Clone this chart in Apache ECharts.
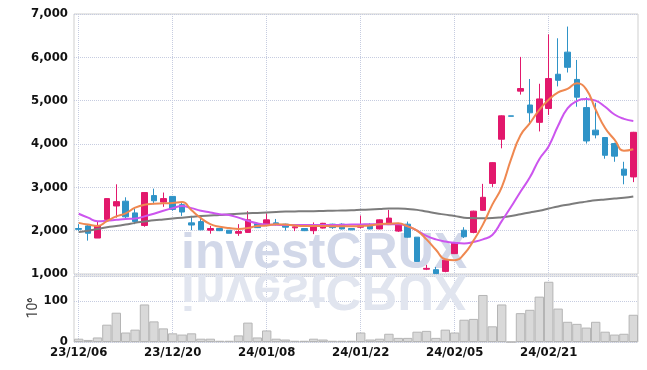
<!DOCTYPE html>
<html>
<head>
<meta charset="utf-8">
<script src="https://cdn.jsdelivr.net/npm/echarts@6/dist/echarts.min.js"></script>
<style>
  html, body { margin: 0; padding: 0; background: #fff; }
  #main { width: 647px; height: 370px; }
</style>
</head>
<body>
<div id="main"></div>
<script>
// trading days
var dates = ['23/12/06','23/12/07','23/12/08','23/12/11','23/12/12','23/12/13','23/12/14','23/12/15','23/12/18','23/12/19',
  '23/12/20','23/12/21','23/12/22','23/12/26','23/12/27','23/12/28','24/01/02','24/01/03','24/01/04','24/01/05',
  '24/01/08','24/01/09','24/01/10','24/01/11','24/01/12','24/01/15','24/01/16','24/01/17','24/01/18','24/01/19',
  '24/01/22','24/01/23','24/01/24','24/01/25','24/01/26','24/01/29','24/01/30','24/01/31','24/02/01','24/02/02',
  '24/02/05','24/02/06','24/02/07','24/02/08','24/02/13','24/02/14','24/02/15','24/02/16','24/02/19','24/02/20',
  '24/02/21','24/02/22','24/02/23','24/02/26','24/02/27','24/02/28','24/02/29','24/03/04','24/03/05','24/03/06'];

var openP  = [2050,2110,1830,2260,2570,2680,2410,2120,2810,2660, 2790,2600,2180,2210,2010,2050,2010,1940,1960,2160,
              2120,2180,2150,2065,2050,2000,2060,2150,2150,2050, 2080,2130,2040,2140,1990,2150,1850,1110,1100,1060,
              1470,2010,1960,2470,3090,4110,4650,5220,4900,4500, 4820,5610,6120,5490,4840,4320,4150,4010,3420,3240];
var closeP = [2030,1940,2115,2740,2670,2320,2210,2880,2690,2740, 2490,2430,2130,2020,2050,2000,1940,1980,2250,2070,
              2250,2140,2080,2090,2000,2090,2170,2070,2040,2020, 2110,2040,2250,2290,2150,1850,1290,1130,1010,1320,
              1710,1860,2450,2770,3570,4650,4640,5280,4720,5040, 5510,5470,5770,5080,4070,4210,3740,3720,3280,4270];
var highP  = [2150,2130,2210,2750,3070,2770,2500,2890,2970,2880, 2800,2640,2340,2270,2110,2060,2010,2150,2450,2170,
              2400,2270,2160,2150,2060,2190,2180,2160,2170,2060, 2350,2170,2260,2480,2170,2210,1850,1210,1160,1330,
              1720,2080,2460,3080,3580,4660,4650,6010,5500,5390, 6530,6440,6710,5940,5080,4950,4160,4030,3590,4280];
var lowP   = [1990,1770,1830,2230,2300,2250,2150,2090,2610,2550, 2460,2340,2010,2010,1930,1990,1940,1880,1950,2060,
              2110,2120,2000,1990,1990,1920,2050,2040,2030,2010, 2050,2030,2030,2130,1970,1840,1280,1090,1000,1040,
              1460,1830,1940,2460,3010,3900,4640,5140,4440,4290, 4670,5330,5650,4860,4010,4130,3660,3590,3070,3120];

// moving averages
var ma5  = [2180,2140,2110,2220,2330,2400,2530,2600,2620,2630, 2640,2660,2470,2290,2150,2090,2060,2040,2060,2110,
            2120,2150,2140,2120,2110,2110,2110,2100,2100,2100, 2110,2120,2150,2160,2170,2100,2000,1800,1560,1340,
            1320,1460,1770,2140,2600,3000,3650,4200,4480,4790, 5020,5190,5270,5400,5260,4790,4370,4100,3845,3880];
var ma20 = [2390,2300,2220,2230,2250,2270,2280,2330,2390,2460, 2520,2570,2520,2460,2420,2380,2360,2300,2230,2170,
            2140,2135,2130,2130,2130,2130,2130,2130,2135,2140, 2145,2150,2150,2150,2150,2100,2000,1880,1800,1750,
            1720,1705,1740,1800,1900,2220,2550,2900,3230,3650, 3950,4420,4820,4990,5040,5000,4860,4680,4580,4530];
var ma60 = [1970,2000,2040,2080,2110,2140,2180,2210,2240,2260, 2280,2300,2320,2340,2350,2360,2380,2390,2400,2410,
            2420,2430,2440,2445,2450,2450,2455,2460,2465,2470, 2480,2490,2500,2510,2510,2500,2480,2440,2400,2370,
            2340,2300,2290,2285,2290,2310,2340,2380,2420,2460, 2510,2560,2600,2640,2670,2700,2720,2740,2760,2790];

// volume, 10^6
var volume = [8,5,11,42,71,23,30,91,50,33, 21,18,21,8,8,3,3,16,47,11,
              28,8,6,3,3,8,6,3,3,3, 23,6,8,20,10,10,25,27,10,30,
              23,54,56,114,38,91,0,70,78,110, 146,81,49,44,35,49,25,18,20,66];
var volumeUnit = '10\u2076';

var upColor = '#e2186c';
var downColor = '#2f93c7';
var gridColor = '#c6cce0';
var labelFont = '"DejaVu Sans Condensed", "DejaVu Sans", sans-serif';

var candles = dates.map(function (d, i) {
    return [openP[i], closeP[i], lowP[i], highP[i]];
});

var dom = document.getElementById('main');
var myChart = echarts.init(dom, null, { renderer: 'canvas' });

var option = {
    animation: false,
    backgroundColor: '#fff',
    graphic: [
        {
            type: 'text', x: 181, y: 271.5, z: 1,
            style: { x: 0, y: -17.5, text: 'investCRUX', fill: '#d2d8e9',
                     font: 'bold 50px "Liberation Sans", Arial, sans-serif', verticalAlign: 'middle' }
        },
        {
            type: 'text', x: 181, y: 271.5, scaleY: -1, z: 1,
            style: { x: 0, y: -17.5, text: 'investCRUX', fill: '#e1e5ef',
                     font: 'bold 50px "Liberation Sans", Arial, sans-serif', verticalAlign: 'middle' }
        },
        {
            // unit of the volume axis
            type: 'text', x: 33, y: 308, rotation: Math.PI / 2,
            style: { text: volumeUnit, fill: '#444', font: '14px Roboto, sans-serif',
                     align: 'center', verticalAlign: 'middle' }
        }
    ],
    grid: [
        { left: 74, right: 9, top: 14, height: 260, show: true, borderColor: '#cfcfcf', borderWidth: 1 },
        { left: 74, right: 9, top: 276, height: 66, show: true, borderColor: '#cfcfcf', borderWidth: 1 }
    ],
    xAxis: [
        {
            type: 'category', gridIndex: 0, data: dates, boundaryGap: true,
            axisLine: { show: false }, axisTick: { show: false }, axisLabel: { show: false },
            splitLine: { show: true, interval: 9, alignWithLabel: true,
                         lineStyle: { color: gridColor, type: 'dotted' } }
        },
        {
            type: 'category', gridIndex: 1, data: dates, boundaryGap: true,
            axisLine: { show: false }, axisTick: { show: false },
            axisLabel: { interval: 9, margin: 4, color: '#111', fontSize: 13, fontWeight: 'bold', fontFamily: labelFont },
            splitLine: { show: true, interval: 9, alignWithLabel: true,
                         lineStyle: { color: gridColor, type: 'dotted' } }
        }
    ],
    yAxis: [
        {
            type: 'value', gridIndex: 0, min: 1000, max: 7000, interval: 1000,
            axisLine: { show: false }, axisTick: { show: false },
            axisLabel: { margin: 6, color: '#111', fontSize: 13, fontWeight: 'bold', fontFamily: labelFont },
            splitLine: { show: true, lineStyle: { color: gridColor, type: 'dotted' } }
        },
        {
            type: 'value', gridIndex: 1, min: 0, max: 160, interval: 100,
            axisLine: { show: false }, axisTick: { show: false },
            axisLabel: {
                margin: 6, color: '#111', fontSize: 13, fontWeight: 'bold', fontFamily: labelFont,
                formatter: function (v) { return (v === 0 || v === 100) ? String(v) : ''; }
            },
            splitLine: { show: true, lineStyle: { color: gridColor, type: 'dotted' } }
        }
    ],
    series: [
        {
            name: 'Volume', type: 'bar', xAxisIndex: 1, yAxisIndex: 1,
            data: volume, barCategoryGap: '0%',
            itemStyle: { color: '#d9d9d9', borderColor: '#b5b5b5', borderWidth: 1 }
        },
        {
            name: 'Price', type: 'candlestick', xAxisIndex: 0, yAxisIndex: 0,
            data: candles, barWidth: 6, z: 3,
            itemStyle: { color: upColor, color0: downColor, borderColor: upColor, borderColor0: downColor, borderWidth: 1 }
        },
        {
            name: 'MA60', type: 'line', data: ma60, smooth: true, showSymbol: false, z: 4,
            lineStyle: { color: '#7c7c7c', width: 2 }
        },
        {
            name: 'MA20', type: 'line', data: ma20, smooth: true, showSymbol: false, z: 4,
            lineStyle: { color: '#cc55ee', width: 2 }
        },
        {
            name: 'MA5', type: 'line', data: ma5, smooth: true, showSymbol: false, z: 4,
            lineStyle: { color: '#ef8850', width: 2 }
        }
    ]
};

if (option && typeof option === 'object') {
    myChart.setOption(option, true);
}
</script>
</body>
</html>
